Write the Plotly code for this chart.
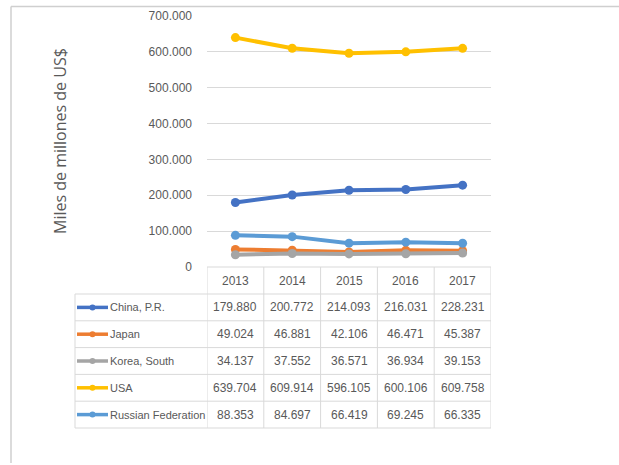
import plotly.graph_objects as go

years = ["2013", "2014", "2015", "2016", "2017"]
series_names = ["China, P.R.", "Japan", "Korea, South", "USA", "Russian Federation"]
china = [179880, 200772, 214093, 216031, 228231]
japan = [49024, 46881, 42106, 46471, 45387]
korea = [34137, 37552, 36571, 36934, 39153]
usa = [639704, 609914, 596105, 600106, 609758]
russia = [88353, 84697, 66419, 69245, 66335]
colors = ["#4472C4", "#ED7D31", "#A5A5A5", "#FFC000", "#5B9BD5"]
y_ticks = [0, 100000, 200000, 300000, 400000, 500000, 600000, 700000]
y_title = "Miles de millones de US$"

series_values = [china, japan, korea, usa, russia]

W, H = 619, 465
L, R, T, B = 207, 491, 16, 267
FONT = "Liberation Sans, Arial"
TXT = "#595959"
GRID = "#D9D9D9"


def px(x):
    return (x - L) / (R - L)


def py(y):
    return (B - y) / (B - T)


def fmt(v):
    return f"{v:,}".replace(",", ".")


fig = go.Figure()
for name, vals, col in zip(series_names, series_values, colors):
    fig.add_trace(go.Scatter(
        x=years, y=vals, name=name, mode="lines+markers",
        line=dict(color=col, width=4), marker=dict(color=col, size=9),
        showlegend=False, hoverinfo="x+y+name"))

shapes = []
annotations = []

header_top, header_bot = 267, 294
row_h = 26.8
row_tops = [header_bot + i * row_h for i in range(len(series_names) + 1)]
table_left = 75
n = len(years)

line_style = dict(color=GRID, width=1)
shapes.append(dict(type="line", xref="paper", yref="paper", x0=px(L), x1=px(R),
                   y0=py(header_top), y1=py(header_top), line=line_style))
for yy in row_tops:
    shapes.append(dict(type="line", xref="paper", yref="paper", x0=px(table_left), x1=px(R),
                       y0=py(yy), y1=py(yy), line=line_style))
shapes.append(dict(type="line", xref="paper", yref="paper", x0=px(table_left), x1=px(table_left),
                   y0=py(header_bot), y1=py(row_tops[-1]), line=line_style))
for i in range(n + 1):
    shapes.append(dict(type="line", xref="x", yref="paper", x0=i - 0.5, x1=i - 0.5,
                       y0=py(header_top), y1=py(row_tops[-1]), line=line_style))

for i, yr in enumerate(years):
    annotations.append(dict(x=i, xref="x", y=py((header_top + header_bot) / 2), yref="paper",
                            text=yr, showarrow=False, yanchor="middle",
                            font=dict(family=FONT, size=12, color=TXT)))

for r, (name, vals, col) in enumerate(zip(series_names, series_values, colors)):
    yc = py(row_tops[r] + row_h / 2)
    shapes.append(dict(type="line", xref="paper", yref="paper", x0=px(77), x1=px(108),
                       y0=yc, y1=yc, line=dict(color=col, width=3.5)))
    shapes.append(dict(type="circle", xref="paper", yref="paper", x0=px(89.5), x1=px(95.5),
                       y0=yc - 3 / (B - T), y1=yc + 3 / (B - T), fillcolor=col,
                       line=dict(color=col, width=0)))
    annotations.append(dict(x=px(108), xref="paper", y=yc, yref="paper", text=name,
                            xanchor="left", yanchor="middle", showarrow=False,
                            font=dict(family=FONT, size=11, color=TXT)))
    for i, v in enumerate(vals):
        annotations.append(dict(x=i, xref="x", y=yc, yref="paper", text=fmt(v),
                                yanchor="middle", showarrow=False,
                                font=dict(family=FONT, size=12, color=TXT)))

annotations.append(dict(x=px(47), xref="paper", y=py(141), yref="paper", text=y_title,
                        textangle=-90, showarrow=False,
                        font=dict(family="Open Sans, Arial", size=16, color=TXT)))

BORDER = dict(color="#CFCFCF", width=1.5)
shapes.append(dict(type="line", xref="paper", yref="paper", x0=px(11), x1=px(619),
                   y0=py(6.5), y1=py(6.5), line=BORDER))
shapes.append(dict(type="line", xref="paper", yref="paper", x0=px(11), x1=px(11),
                   y0=py(6.5), y1=py(463), line=BORDER))

fig.update_layout(
    width=W, height=H,
    margin=dict(l=L, r=W - R, t=T, b=H - B),
    paper_bgcolor="white", plot_bgcolor="white",
    separators=",.",
    shapes=shapes, annotations=annotations,
    xaxis=dict(type="category", range=[-0.5, n - 0.5], showticklabels=False,
               showgrid=False, zeroline=False, showline=False, ticks="",
               automargin=False),
    yaxis=dict(range=[0, 700000], tickvals=y_ticks,
               ticktext=[fmt(v) for v in y_ticks],
               showgrid=True, gridcolor=GRID, gridwidth=1, zeroline=False,
               showline=False, ticks="", ticklabelstandoff=14, automargin=False,
               tickfont=dict(family=FONT, size=12, color=TXT)),
    font=dict(family=FONT),
)

fig.write_html("out.html", config={"displayModeBar": False},
               post_script="document.body.style.margin='0px';document.body.style.overflow='hidden';")
